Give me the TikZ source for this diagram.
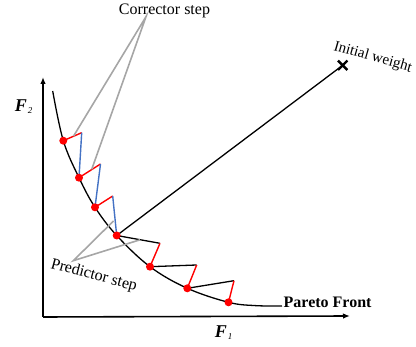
\documentclass[tikz,border=0pt]{standalone}
\usepackage{fontspec}
\setmainfont{Liberation Serif}
\usetikzlibrary{arrows.meta,shapes.misc}
\definecolor{predred}{HTML}{FF0000}
\definecolor{corrblue}{HTML}{4472C4}
\definecolor{callgray}{HTML}{A6A6A6}
\begin{document}
\begin{tikzpicture}[x=1pt,y=-1pt,
  dot/.style={circle,fill=predred,inner sep=0pt,minimum size=8pt},
  axis/.style={line width=1.6pt,-{Latex[length=7pt,width=5.5pt]}},
  front/.style={line width=1.3pt},
  predline/.style={line width=1.3pt,black},
  redline/.style={line width=1.4pt,predred},
  blueline/.style={line width=1.4pt,corrblue},
  callout/.style={line width=1.6pt,callgray},
  lbl/.style={font=\fontsize{16}{16}\selectfont,inner sep=0pt},
  axlbl/.style={font=\fontsize{18}{18}\selectfont\bfseries\itshape,inner sep=0pt}]
\useasboundingbox (0,0) rectangle (416,347);
% axes
\coordinate (o) at (43,317);
\coordinate (ytop) at (43,77);
\coordinate (xend) at (350,316);
\draw[axis] (o) -- (ytop);
\draw[axis] (o) -- (xend);
\node[axlbl] (f2) at (21,106) {F};
\node[font=\fontsize{9}{9}\selectfont\itshape,inner sep=0pt] (f2s) at (30,111) {2};
\node[axlbl] (f1) at (221,332) {F};
\node[font=\fontsize{9}{9}\selectfont\itshape,inner sep=0pt] (f1s) at (230,337) {1};
% front points
\coordinate (s) at (52.7,91);
\coordinate (p1) at (63.3,140.7);
\coordinate (p2) at (79,177.7);
\coordinate (p3) at (95,207.3);
\coordinate (p4) at (116.7,235.5);
\coordinate (p5) at (150,266.7);
\coordinate (p6) at (187.3,288.3);
\coordinate (p7) at (228.5,302.3);
\coordinate (e1) at (255,305.6);
\coordinate (e) at (282,306);
\draw[front] plot[smooth,tension=0.6] coordinates {(s) (p1) (p2) (p3) (p4) (p5) (p6) (p7) (e1) (e)};
\node[lbl,font=\fontsize{16}{16}\selectfont\bfseries,anchor=base west] (pf) at (283.5,308) {Pareto Front};
% step corners
\coordinate (c1) at (81.7,132.7);
\coordinate (c2) at (100.5,164);
\coordinate (c3) at (112.7,196);
\coordinate (q4) at (160,243.3);
\coordinate (q5) at (196.7,265);
\coordinate (q6) at (234,280.7);
% initial weight
\node[draw,cross out,line width=2.4pt,minimum size=7pt,inner sep=0pt] (w) at (342.7,65.3) {};
\draw[predline] (p4) -- (w.center);
\node[lbl,font=\fontsize{15}{15}\selectfont,anchor=base west,rotate=-16] (iw) at (333,50) {Initial weight};
% predictor (black) segments
\draw[predline] (p4) -- (q4);
\draw[predline] (p5) -- (q5);
\draw[predline] (p6) -- (q6);
% red segments
\draw[redline] (p1) -- (c1);
\draw[redline] (p2) -- (c2);
\draw[redline] (p3) -- (c3);
\draw[redline] (q4) -- (p5);
\draw[redline] (q5) -- (p6);
\draw[redline] (q6) -- (p7);
% blue segments
\draw[blueline] (c1) -- (p2);
\draw[blueline] (c2) -- (p3);
\draw[blueline] (c3) -- (p4);
% callouts
\node[lbl,anchor=base] (cs) at (164.5,15) {Corrector step};
\coordinate (csp) at (146,16.7);
\coordinate (g1) at (73.5,136.2);
\coordinate (g2) at (91.7,169.4);
\draw[callout] (g1) -- (csp) -- (g2);
\node[lbl,anchor=base west,rotate=-15] (ps) at (50,268) {Predictor step};
\coordinate (psp) at (73.3,260.7);
\coordinate (h1) at (113.5,221);
\coordinate (h2) at (140,239.8);
\draw[callout] (h1) -- (psp) -- (h2);
% dots
\foreach \i in {1,...,7} \node[dot] (d\i) at (p\i) {};
\end{tikzpicture}
\end{document}
